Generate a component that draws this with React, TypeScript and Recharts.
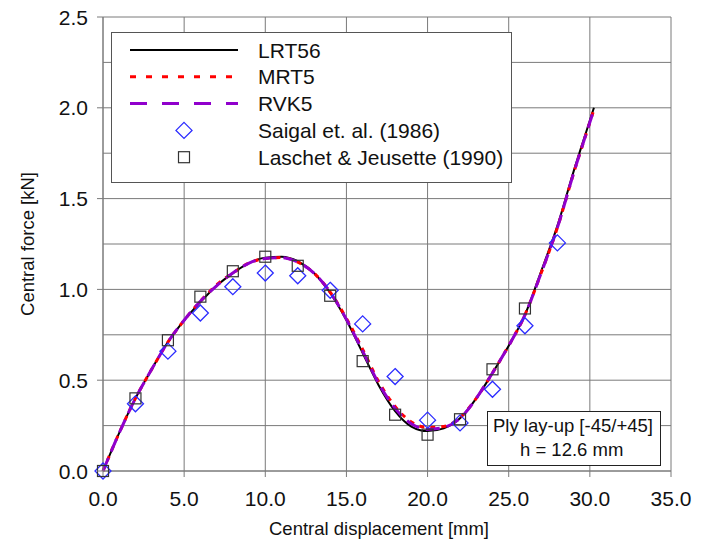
import {
  ComposedChart,
  Line,
  Scatter,
  XAxis,
  YAxis,
  CartesianGrid,
  Legend,
} from 'recharts';

// model curves, central displacement [mm] vs central force [kN]
const curveX = [0, 1, 2, 3, 4, 5, 6, 7, 8, 9, 10, 11, 12, 13, 14, 15, 16, 17, 18, 19, 20, 21, 22, 23, 24, 25, 26, 27, 28, 29, 30, 30.25];
const lrt56 = [0, 0.21, 0.4, 0.56, 0.71, 0.83, 0.93, 1.02, 1.09, 1.145, 1.175, 1.18, 1.155, 1.09, 0.98, 0.83, 0.65, 0.47, 0.33, 0.245, 0.22, 0.235, 0.29, 0.4, 0.54, 0.69, 0.86, 1.1, 1.35, 1.65, 1.93, 2.0];
const mrt5 = [0, 0.21, 0.4, 0.56, 0.71, 0.83, 0.935, 1.025, 1.09, 1.145, 1.17, 1.175, 1.15, 1.09, 0.985, 0.84, 0.67, 0.49, 0.355, 0.27, 0.24, 0.245, 0.295, 0.4, 0.54, 0.69, 0.86, 1.09, 1.34, 1.64, 1.92, 1.99];
const rvk5 = [0, 0.21, 0.4, 0.56, 0.71, 0.83, 0.935, 1.02, 1.09, 1.145, 1.17, 1.175, 1.15, 1.09, 0.985, 0.835, 0.66, 0.48, 0.345, 0.26, 0.23, 0.24, 0.29, 0.4, 0.54, 0.69, 0.86, 1.09, 1.34, 1.64, 1.92, 1.99];

// reference results
const saigalX = [0, 2, 4, 6, 8, 10, 12, 14, 16, 18, 20, 22, 24, 26, 28];
const saigal = [0, 0.37, 0.66, 0.87, 1.015, 1.09, 1.075, 0.995, 0.81, 0.52, 0.28, 0.265, 0.45, 0.8, 1.256];
const laschetX = [0, 2, 4, 6, 8, 10, 12, 14, 16, 18, 20, 22, 24, 26];
const laschet = [0, 0.4, 0.72, 0.96, 1.1, 1.18, 1.13, 0.965, 0.605, 0.31, 0.2, 0.285, 0.56, 0.895];

const xTicks = [0, 5, 10, 15, 20, 25, 30, 35];
const yTicks = [0, 0.25, 0.5, 0.75, 1, 1.25, 1.5, 1.75, 2, 2.25, 2.5];

const toPoints = (xs: number[], ys: number[]) => xs.map((x, i) => ({ x, y: ys[i] }));

const FONT = '"Liberation Sans", Arial, sans-serif';
const GRID = '#7a7a7a';

const Diamond = (props: any) => {
  const { cx, cy } = props;
  const r = 8;
  return (
    <polygon
      points={`${cx},${cy - r} ${cx + r},${cy} ${cx},${cy + r} ${cx - r},${cy}`}
      fill='none'
      stroke='#2b2bff'
      strokeWidth={1.3}
    />
  );
};

const Square = (props: any) => {
  const { cx, cy } = props;
  const h = 5.5;
  return <rect x={cx - h} y={cy - h} width={2 * h} height={2 * h} fill='none' stroke='#333' strokeWidth={1.2} />;
};

const YTick = (props: any) => {
  const { x, y, payload } = props;
  const v = payload.value;
  if (Math.abs(v * 2 - Math.round(v * 2)) > 1e-6) return null;
  return (
    <g>
      <line x1={x + 9} x2={x + 15} y1={y} y2={y} stroke={GRID} />
      <text x={x} y={y} dy='0.36em' textAnchor='end' fontSize={21} fontFamily={FONT} fill='#111'>
        {v.toFixed(1)}
      </text>
    </g>
  );
};

const legendRows = [
  { name: 'LRT56', kind: 'line', color: '#000', dash: undefined as string | undefined, width: 2 },
  { name: 'MRT5', kind: 'line', color: '#ff0000', dash: '6 10', width: 3 },
  { name: 'RVK5', kind: 'line', color: '#9000cc', dash: '17 15', width: 3 },
  { name: 'Saigal et. al. (1986)', kind: 'diamond', color: '#2b2bff', dash: undefined, width: 1 },
  { name: 'Laschet & Jeusette (1990)', kind: 'square', color: '#333', dash: undefined, width: 1 },
];

const renderLegend = () => (
  <svg width={401} height={151} style={{ display: 'block' }}>
    <rect x={0.5} y={0.5} width={400} height={150} fill='#fff' stroke='#555' />
    {legendRows.map((r, i) => {
      const cy = 18 + i * 26.8;
      return (
        <g key={r.name}>
          {r.kind === 'line' && (
            <line x1={19} x2={127} y1={cy} y2={cy} stroke={r.color} strokeWidth={r.width} strokeDasharray={r.dash} />
          )}
          {r.kind === 'diamond' && <Diamond cx={73} cy={cy} />}
          {r.kind === 'square' && <Square cx={73} cy={cy} />}
          <text x={147} y={cy} dy='0.36em' fontSize={21} fontFamily={FONT} fill='#111'>
            {r.name}
          </text>
        </g>
      );
    })}
  </svg>
);

export default function App() {
  return (
    <div style={{ position: 'absolute', left: 0, top: 0, width: 710, height: 543, background: '#fff', fontFamily: FONT }}>
      <ComposedChart width={710} height={543} margin={{ top: 17, right: 39, bottom: 12, left: 13 }}>
        <CartesianGrid stroke={GRID} />
        <XAxis
          type='number'
          dataKey='x'
          domain={[0, 35]}
          ticks={xTicks}
          interval={0}
          height={60}
          tickSize={6}
          tickMargin={14}
          stroke={GRID}
          tickFormatter={(v: number) => v.toFixed(1)}
          tick={{ fontSize: 21, fill: '#111', fontFamily: FONT }}
          label={{
            content: () => (
              <text x={379} y={535} textAnchor='middle' fontSize={18.5} fontFamily={FONT} fill='#111'>
                Central displacement [mm]
              </text>
            ),
          }}
        />
        <YAxis
          type='number'
          domain={[0, 2.5]}
          ticks={yTicks}
          interval={0}
          width={90}
          tickSize={0}
          tickMargin={15}
          tickLine={false}
          stroke={GRID}
          tick={<YTick />}
          label={{
            content: () => (
              <text
                x={27}
                y={244}
                transform='rotate(-90 27 244)'
                textAnchor='middle'
                dy='0.36em'
                fontSize={18.5}
                fontFamily={FONT}
                fill='#111'
              >
                Central force [kN]
              </text>
            ),
          }}
        />
        <Legend
          layout='vertical'
          align='center'
          verticalAlign='middle'
          content={renderLegend}
          wrapperStyle={{ left: 111, top: 32, width: 401, height: 151 }}
        />
        <Line data={toPoints(curveX, lrt56)} dataKey='y' type='monotone' stroke='#000' strokeWidth={2} dot={false} isAnimationActive={false} />
        <Line data={toPoints(curveX, mrt5)} dataKey='y' type='monotone' stroke='#ff0000' strokeWidth={3} strokeDasharray='5 6' dot={false} isAnimationActive={false} />
        <Line data={toPoints(curveX, rvk5)} dataKey='y' type='monotone' stroke='#9000cc' strokeWidth={3} strokeDasharray='14 7' dot={false} isAnimationActive={false} />
        <Scatter data={toPoints(saigalX, saigal)} dataKey='y' shape={<Diamond />} isAnimationActive={false} />
        <Scatter data={toPoints(laschetX, laschet)} dataKey='y' shape={<Square />} isAnimationActive={false} />
      </ComposedChart>
      <div
        style={{
          position: 'absolute',
          left: 487,
          top: 411,
          width: 172,
          height: 51,
          background: '#fff',
          border: '1px solid #222',
          fontSize: 18.5,
          lineHeight: '24px',
          color: '#111',
          paddingTop: 2,
          boxSizing: 'content-box',
        }}
      >
        <div style={{ paddingLeft: 5, whiteSpace: 'nowrap' }}>Ply lay-up [-45/+45]</div>
        <div style={{ paddingLeft: 32, whiteSpace: 'nowrap' }}>h = 12.6 mm</div>
      </div>
    </div>
  );
}
